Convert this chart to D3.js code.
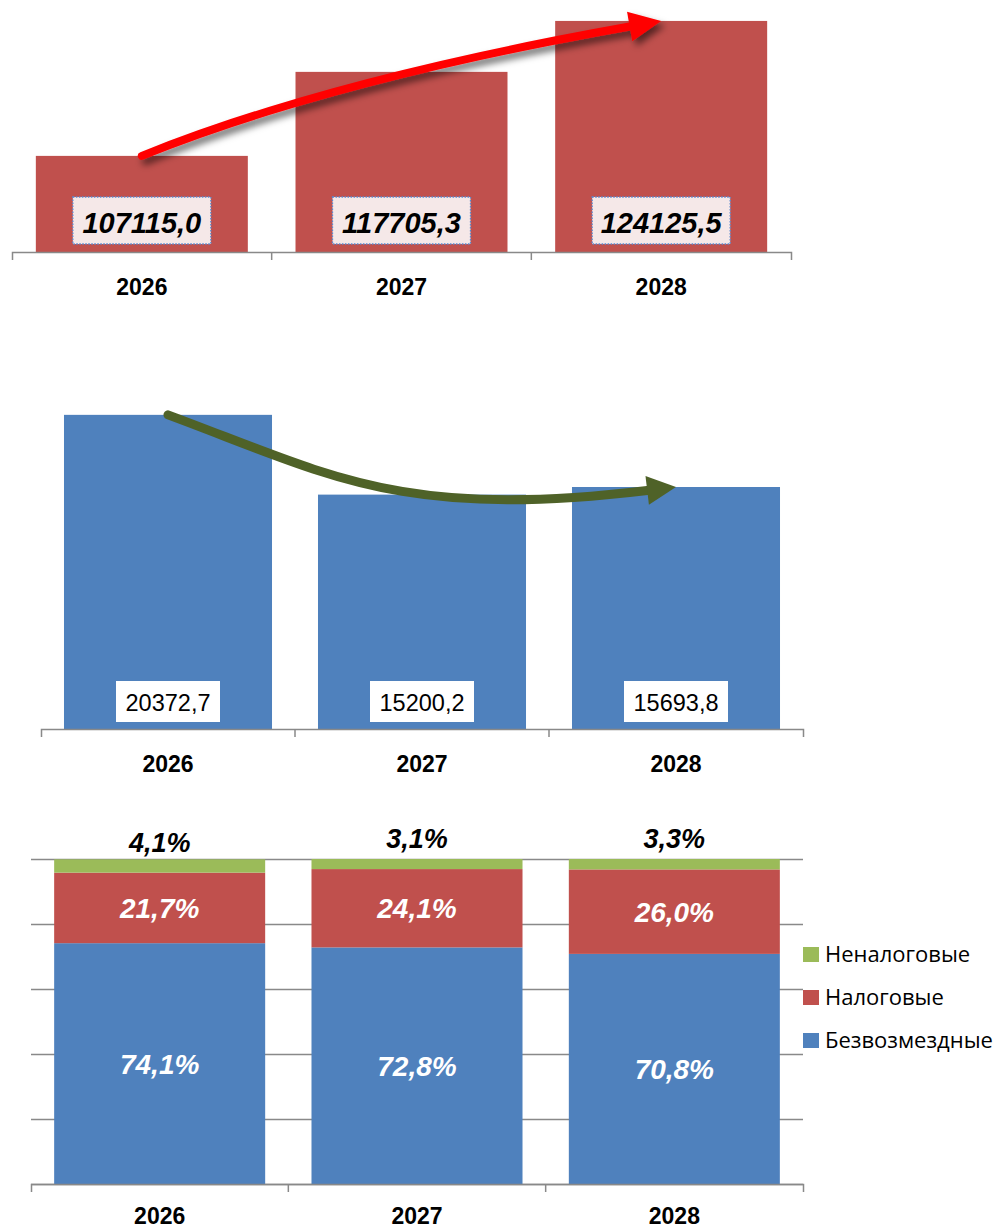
<!DOCTYPE html>
<html>
<head>
<meta charset="utf-8">
<script src="https://cdn.jsdelivr.net/npm/d3@7"></script>
<style>
    body { margin: 0; background: #fff; }
    svg { display: block; font-family: "Liberation Sans", Arial, sans-serif; }
</style>
</head>
<body>
<svg width="1006" height="1229"></svg>
<script>
// data
const years = ['2026', '2027', '2028']
const totalIncome = [107115.0, 117705.3, 124125.5]
const totalLabels = ['107115,0', '117705,3', '124125,5']
const grants = [20372.7, 15200.2, 15693.8]
const grantLabels = ['20372,7', '15200,2', '15693,8']
const seriesNames = ['Безвозмездные', 'Налоговые', 'Неналоговые']
const shareGrants = [74.1, 72.8, 70.8]
const shareTax = [21.7, 24.1, 26.0]
const shareNonTax = [4.1, 3.1, 3.3]
const gridTicks = [0, 20, 40, 60, 80, 100]

const red = '#c0504d'
const blue = '#4f81bd'
const green = '#9bbb59'
const axisColor = '#898989'

let svg = d3.select('svg')

let defs = svg.append('defs')
defs.append('filter')
    .attr('id', 'shadow')
    .attr('x', '-20%').attr('y', '-50%')
    .attr('width', '140%').attr('height', '200%')
    .append('feDropShadow')
    .attr('dx', 4).attr('dy', 5)
    .attr('stdDeviation', 3.5)
    .attr('flood-color', '#000')
    .attr('flood-opacity', 0.55)

// category axis with boundary ticks
function drawAxis(g, x, yPos, pad) {
    let axis = g.append('g')
        .attr('transform', 'translate(0,' + yPos + ')')
        .call(d3.axisBottom(x).tickSizeInner(0).tickSizeOuter(8).tickPadding(pad))
    axis.select('.domain').attr('stroke', axisColor).attr('stroke-width', 1.5)
    axis.selectAll('text')
        .attr('font-size', 23)
        .attr('font-weight', 'bold')
        .attr('fill', '#000')
        .style('font-family', '"Liberation Sans", Arial, sans-serif')
    let r = x.range()
    for (let i = 1; i < years.length; i++) {
        let bx = r[0] + i * x.step()
        axis.append('line')
            .attr('x1', bx).attr('x2', bx)
            .attr('y1', 0).attr('y2', 8)
            .attr('stroke', axisColor).attr('stroke-width', 1.5)
    }
}

function arrowHead(g, tip, u, len, half, color) {
    let bx = tip[0] - len * u[0]
    let by = tip[1] - len * u[1]
    let n = [-u[1], u[0]]
    g.append('path')
        .attr('d', 'M' + tip + 'L' + [bx + half * n[0], by + half * n[1]] +
            'L' + [bx - half * n[0], by - half * n[1]] + 'Z')
        .attr('fill', color)
    return [bx, by]
}

function unit(a, b) {
    let dx = b[0] - a[0], dy = b[1] - a[1]
    let l = Math.sqrt(dx * dx + dy * dy)
    return [dx / l, dy / l]
}

// FIRST CHART: total income
let g1 = svg.append('g')
let x1 = d3.scaleBand().domain(years).range([12, 791]).paddingInner(0.1836).paddingOuter(0.0918)
let y1 = d3.scaleLinear().domain([95000, 125000]).range([252, 14])

g1.selectAll('rect.bar')
    .data(totalIncome)
    .enter()
    .append('rect')
    .attr('class', 'bar')
    .attr('x', (d, i) => x1(years[i]))
    .attr('y', d => y1(d))
    .attr('width', x1.bandwidth())
    .attr('height', d => y1(95000) - y1(d))
    .attr('fill', red)

drawAxis(g1, x1, 252, 27)

let labels1 = g1.selectAll('g.lbl')
    .data(totalLabels)
    .enter()
    .append('g')
    .attr('class', 'lbl')
    .attr('transform', (d, i) => 'translate(' + (x1(years[i]) + x1.bandwidth() / 2) + ',' + 244 + ')')

labels1.append('rect')
    .attr('x', -69).attr('y', -47)
    .attr('width', 138).attr('height', 47)
    .attr('fill', '#f5e8e8')
    .attr('stroke', '#5b8ad0')
    .attr('stroke-width', 1.3)
    .attr('stroke-dasharray', '1.6,1.4')

labels1.append('text')
    .attr('y', -11)
    .attr('text-anchor', 'middle')
    .attr('font-size', 29)
    .attr('font-weight', 'bold')
    .attr('font-style', 'italic')
    .attr('fill', '#000')
    .text(d => d)

// red growth arrow
let redStart = [x1(years[0]) + x1.bandwidth() / 2, y1(totalIncome[0])]
let redTip = [x1(years[2]) + x1.bandwidth() / 2, y1(totalIncome[2])]
let redCtrl = [redStart[0] + 188, redStart[1] - 76]
let redArrow = g1.append('g').attr('filter', 'url(#shadow)')
let redPath = redArrow.append('path')
let redBase = arrowHead(redArrow, redTip, unit(redCtrl, redTip), 32, 15, '#ff0000')
redPath
    .attr('d', 'M' + redStart + 'Q' + redCtrl + ' ' + redBase)
    .attr('fill', 'none')
    .attr('stroke', '#ff0000')
    .attr('stroke-width', 8)
    .attr('stroke-linecap', 'round')

// SECOND CHART: grants
let g2 = svg.append('g')
let x2 = d3.scaleBand().domain(years).range([41, 803]).paddingInner(0.181).paddingOuter(0.0905)
let y2 = d3.scaleLinear().domain([0, 25000]).range([729, 343.5])

g2.selectAll('rect.bar')
    .data(grants)
    .enter()
    .append('rect')
    .attr('class', 'bar')
    .attr('x', (d, i) => x2(years[i]))
    .attr('y', d => y2(d))
    .attr('width', x2.bandwidth())
    .attr('height', d => y2(0) - y2(d))
    .attr('fill', blue)

drawAxis(g2, x2, 729, 27)

let labels2 = g2.selectAll('g.lbl')
    .data(grantLabels)
    .enter()
    .append('g')
    .attr('class', 'lbl')
    .attr('transform', (d, i) => 'translate(' + (x2(years[i]) + x2.bandwidth() / 2) + ',' + 722 + ')')

labels2.append('rect')
    .attr('x', -52).attr('y', -41)
    .attr('width', 104).attr('height', 41)
    .attr('fill', '#fff')

labels2.append('text')
    .attr('y', -11)
    .attr('text-anchor', 'middle')
    .attr('font-size', 23.5)
    .attr('fill', '#000')
    .text(d => d)

// green trend arrow
let grStart = [x2(years[0]) + x2.bandwidth() / 2, y2(grants[0])]
let grTip = [x2(years[2]) + x2.bandwidth() / 2, y2(grants[2])]
let grC1 = [grStart[0] + 162, grStart[1] + 60]
let grC2 = [grTip[0] - 276, grTip[1] + 33]
let grArrow = g2.append('g')
let grPath = grArrow.append('path')
let grBase = arrowHead(grArrow, grTip, unit(grC2, grTip), 29, 14.5, '#4f6228')
grPath
    .attr('d', 'M' + grStart + 'C' + grC1 + ' ' + grC2 + ' ' + grBase)
    .attr('fill', 'none')
    .attr('stroke', '#4f6228')
    .attr('stroke-width', 9)
    .attr('stroke-linecap', 'round')

// THIRD CHART: structure, stacked 100%
let g3 = svg.append('g')
let x3 = d3.scaleBand().domain(years).range([31, 803]).paddingInner(0.18).paddingOuter(0.09)
let y3 = d3.scaleLinear().domain([0, 100]).range([1184, 859])

let grid = g3.append('g')
    .attr('transform', 'translate(31,0)')
    .call(d3.axisLeft(y3).tickValues(gridTicks).tickSize(-772).tickFormat(''))
grid.select('.domain').remove()
grid.selectAll('line').attr('stroke', axisColor).attr('stroke-width', 1.5)

let table = years.map((yr, i) => ({
    year: yr,
    'Безвозмездные': shareGrants[i],
    'Налоговые': shareTax[i],
    'Неналоговые': shareNonTax[i]
}))
let stack = d3.stack().keys(seriesNames)(table)
let colors = d3.scaleOrdinal().domain(seriesNames).range([blue, red, green])

let layers = g3.selectAll('g.layer')
    .data(stack)
    .enter()
    .append('g')
    .attr('class', 'layer')
    .attr('fill', d => colors(d.key))

layers.selectAll('rect')
    .data(d => d)
    .enter()
    .append('rect')
    .attr('x', d => x3(d.data.year))
    .attr('y', d => y3(Math.min(d[1], 100)))
    .attr('width', x3.bandwidth())
    .attr('height', d => y3(d[0]) - y3(Math.min(d[1], 100)))

drawAxis(g3, x3, 1184, 24)

let fmt = v => v.toFixed(1).replace('.', ',') + '%'

// inner labels for the two large segments
stack.slice(0, 2).forEach(layer => {
    g3.selectAll(null)
        .data(layer)
        .enter()
        .append('text')
        .attr('x', d => x3(d.data.year) + x3.bandwidth() / 2)
        .attr('y', d => (y3(d[0]) + y3(d[1])) / 2)
        .attr('dy', '0.36em')
        .attr('text-anchor', 'middle')
        .attr('font-size', 28)
        .attr('font-weight', 'bold')
        .attr('font-style', 'italic')
        .attr('fill', '#fff')
        .text(d => fmt(d[1] - d[0]))
})

// non-tax labels above the bars
g3.selectAll('text.top')
    .data(shareNonTax)
    .enter()
    .append('text')
    .attr('class', 'top')
    .attr('x', (d, i) => x3(years[i]) + x3.bandwidth() / 2)
    .attr('y', (d, i) => i == 0 ? 852 : 848)
    .attr('text-anchor', 'middle')
    .attr('font-size', 27)
    .attr('font-weight', 'bold')
    .attr('font-style', 'italic')
    .attr('fill', '#000')
    .text(d => fmt(d))

// legend
let legend = g3.selectAll('g.legend')
    .data(seriesNames.slice().reverse())
    .enter()
    .append('g')
    .attr('class', 'legend')
    .attr('transform', (d, i) => 'translate(803,' + (947 + i * 43) + ')')

legend.append('rect')
    .attr('width', 16).attr('height', 15)
    .attr('fill', d => colors(d))

legend.append('text')
    .attr('x', 22)
    .attr('y', 15)
    .attr('font-size', 22)
    .attr('fill', '#000')
    .style('font-family', '"Open Sans", sans-serif')
    .text(d => d)
</script>
</body>
</html>
